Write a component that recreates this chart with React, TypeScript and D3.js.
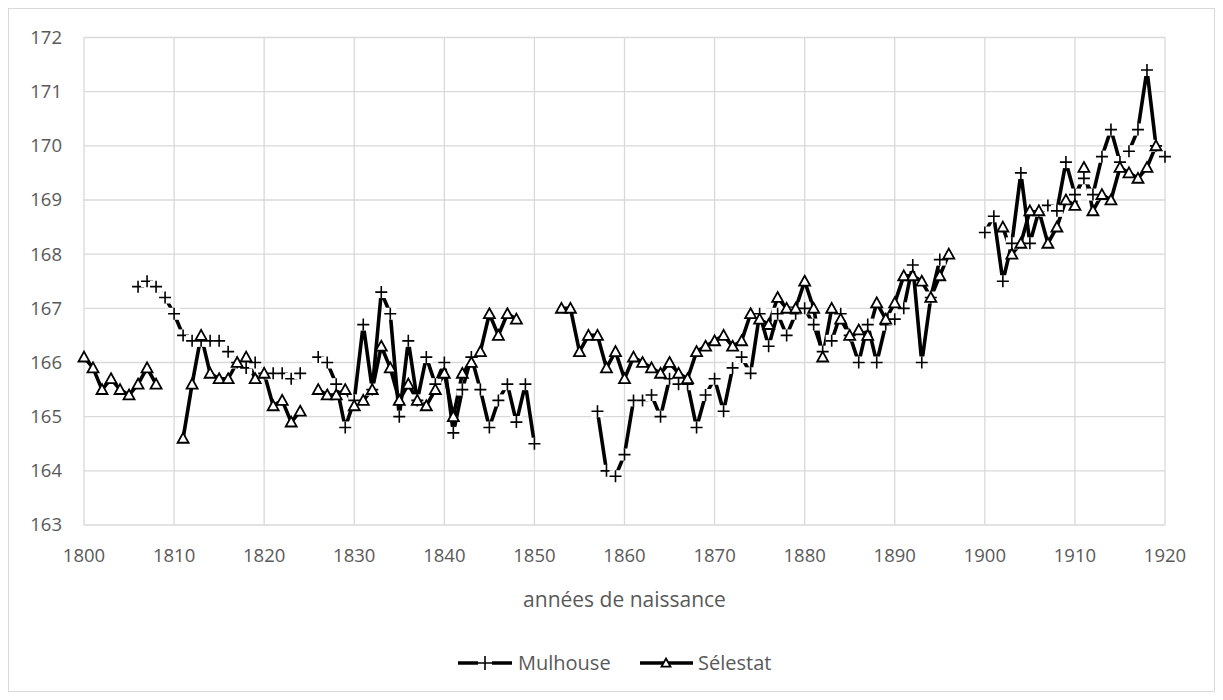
import React from 'react';
import * as d3 from 'd3';

// années de naissance 1800..1920
const years: number[] = d3.range(1800, 1921);

// taille moyenne (cm), null = pas de donnée
const mulhouse: (number | null)[] = [
  null, null, null, null, null, null, 167.4, 167.5, 167.4, 167.2,
  166.9, 166.5, 166.4, 166.4, 166.4, 166.4, 166.2, 166.0, 165.9, 166.0,
  165.8, 165.8, 165.8, 165.7, 165.8, null, 166.1, 166.0, 165.6, 164.8,
  165.3, 166.7, 165.5, 167.3, 166.9, 165.0, 166.4, 165.3, 166.1, 165.6,
  166.0, 164.7, 165.5, 166.1, 165.5, 164.8, 165.3, 165.6, 164.9, 165.6,
  164.5, null, null, null, null, null, null, 165.1, 164.0, 163.9,
  164.3, 165.3, 165.3, 165.4, 165.0, 165.7, 165.6, 165.6, 164.8, 165.4,
  165.7, 165.1, 165.9, 166.1, 165.8, 166.9, 166.3, 166.9, 166.5, 166.9,
  167.0, 166.7, 166.2, 166.4, 166.9, 166.5, 166.0, 166.7, 166.0, 166.7,
  166.8, 167.0, 167.8, 166.0, 167.2, 167.9, null, null, null, null,
  168.4, 168.7, 167.5, 168.2, 169.5, 168.2, 168.8, 168.9, 168.8, 169.7,
  169.1, 169.4, 169.1, 169.8, 170.3, 169.7, 169.9, 170.3, 171.4, 170.0,
  169.8,
];

const selestat: (number | null)[] = [
  166.1, 165.9, 165.5, 165.7, 165.5, 165.4, 165.6, 165.9, 165.6, null,
  null, 164.6, 165.6, 166.5, 165.8, 165.7, 165.7, 166.0, 166.1, 165.7,
  165.8, 165.2, 165.3, 164.9, 165.1, null, 165.5, 165.4, 165.4, 165.5,
  165.2, 165.3, 165.5, 166.3, 165.9, 165.3, 165.6, 165.3, 165.2, 165.5,
  165.8, 165.0, 165.8, 166.0, 166.2, 166.9, 166.5, 166.9, 166.8, null,
  null, null, null, 167.0, 167.0, 166.2, 166.5, 166.5, 165.9, 166.2,
  165.7, 166.1, 166.0, 165.9, 165.8, 166.0, 165.8, 165.7, 166.2, 166.3,
  166.4, 166.5, 166.3, 166.4, 166.9, 166.8, 166.7, 167.2, 167.0, 167.0,
  167.5, 167.0, 166.1, 167.0, 166.8, 166.5, 166.6, 166.5, 167.1, 166.8,
  167.1, 167.6, 167.6, 167.5, 167.2, 167.6, 168.0, null, null, null,
  null, null, 168.5, 168.0, 168.2, 168.8, 168.8, 168.2, 168.5, 169.0,
  168.9, 169.6, 168.8, 169.1, 169.0, 169.6, 169.5, 169.4, 169.6, 170.0,
  null,
];

const yTicks = [163, 164, 165, 166, 167, 168, 169, 170, 171, 172];
const xTicks = [1800, 1810, 1820, 1830, 1840, 1850, 1860, 1870, 1880, 1890, 1900, 1910, 1920];

const W = 1207;
const H = 684;
const FONT = "'Open Sans', 'Noto Sans', sans-serif";
const TEXT = '#595959';
const GRID = '#d9d9d9';

type Pt = { year: number; v: number | null };

const Plus = ({ x, y, s = 6 }: { x: number; y: number; s?: number }) => (
  <g>
    <rect x={x - s} y={y - s} width={s * 2} height={s * 2} fill="#fff" />
    <path d={`M${x - s},${y}H${x + s}M${x},${y - s}V${y + s}`} stroke="#000" strokeWidth={1.6} />
  </g>
);

const Tri = ({ x, y, s = 5.5 }: { x: number; y: number; s?: number }) => (
  <path
    d={`M${x},${y - s}L${x + s},${y + s * 0.8}L${x - s},${y + s * 0.8}Z`}
    fill="#fff"
    stroke="#000"
    strokeWidth={1.8}
    strokeLinejoin="miter"
  />
);

export default function App() {
  const x = d3.scaleLinear().domain([1800, 1920]).range([76, 1157]);
  const y = d3.scaleLinear().domain([163, 172]).range([517, 29.5]);

  const mul: Pt[] = years.map((yr, i) => ({ year: yr, v: mulhouse[i] }));
  const sel: Pt[] = years.map((yr, i) => ({ year: yr, v: selestat[i] }));

  const line = d3
    .line<Pt>()
    .defined(d => d.v !== null)
    .x(d => x(d.year))
    .y(d => y(d.v as number));

  return (
    <svg width={W} height={H} style={{ display: 'block' }} fontFamily={FONT}>
      <rect x={0.5} y={0.5} width={W - 1} height={H - 1} fill="#fff" stroke={GRID} />

      {/* grille */}
      {yTicks.map(t => (
        <line key={'gy' + t} x1={x(1800)} x2={x(1920)} y1={y(t)} y2={y(t)} stroke={GRID} strokeWidth={1.3} />
      ))}
      {xTicks.map(t => (
        <line key={'gx' + t} x1={x(t)} x2={x(t)} y1={y(172)} y2={y(163)} stroke={GRID} strokeWidth={1.3} />
      ))}

      {/* étiquettes */}
      {yTicks.map(t => (
        <text key={'ty' + t} x={54} y={y(t)} dy="0.35em" textAnchor="end" fontSize={18.5} fill={TEXT}>
          {t}
        </text>
      ))}
      {xTicks.map(t => (
        <text key={'tx' + t} x={x(t)} y={548} dy="0.35em" textAnchor="middle" fontSize={18.5} fill={TEXT}>
          {t}
        </text>
      ))}
      <text x={(x(1800) + x(1920)) / 2} y={592} dy="0.35em" textAnchor="middle" fontSize={21} fill={TEXT}>
        années de naissance
      </text>

      {/* séries */}
      <path d={line(mul) || ''} fill="none" stroke="#000" strokeWidth={3.6} strokeLinejoin="round" />
      <path d={line(sel) || ''} fill="none" stroke="#000" strokeWidth={3.6} strokeLinejoin="round" />
      {mul.filter(d => d.v !== null).map(d => (
        <Plus key={'m' + d.year} x={x(d.year)} y={y(d.v as number)} />
      ))}
      {sel.filter(d => d.v !== null).map(d => (
        <Tri key={'s' + d.year} x={x(d.year)} y={y(d.v as number)} />
      ))}

      {/* légende */}
      <g>
        <line x1={450} x2={504} y1={655} y2={655} stroke="#000" strokeWidth={3.6} />
        <Plus x={477} y={655} s={7} />
        <text x={510} y={655} dy="0.35em" fontSize={20} fill={TEXT}>Mulhouse</text>
        <line x1={632} x2={685} y1={655} y2={655} stroke="#000" strokeWidth={3.6} />
        <Tri x={658} y={655} s={4.5} />
        <text x={690} y={655} dy="0.35em" fontSize={20} fill={TEXT}>Sélestat</text>
      </g>
    </svg>
  );
}
